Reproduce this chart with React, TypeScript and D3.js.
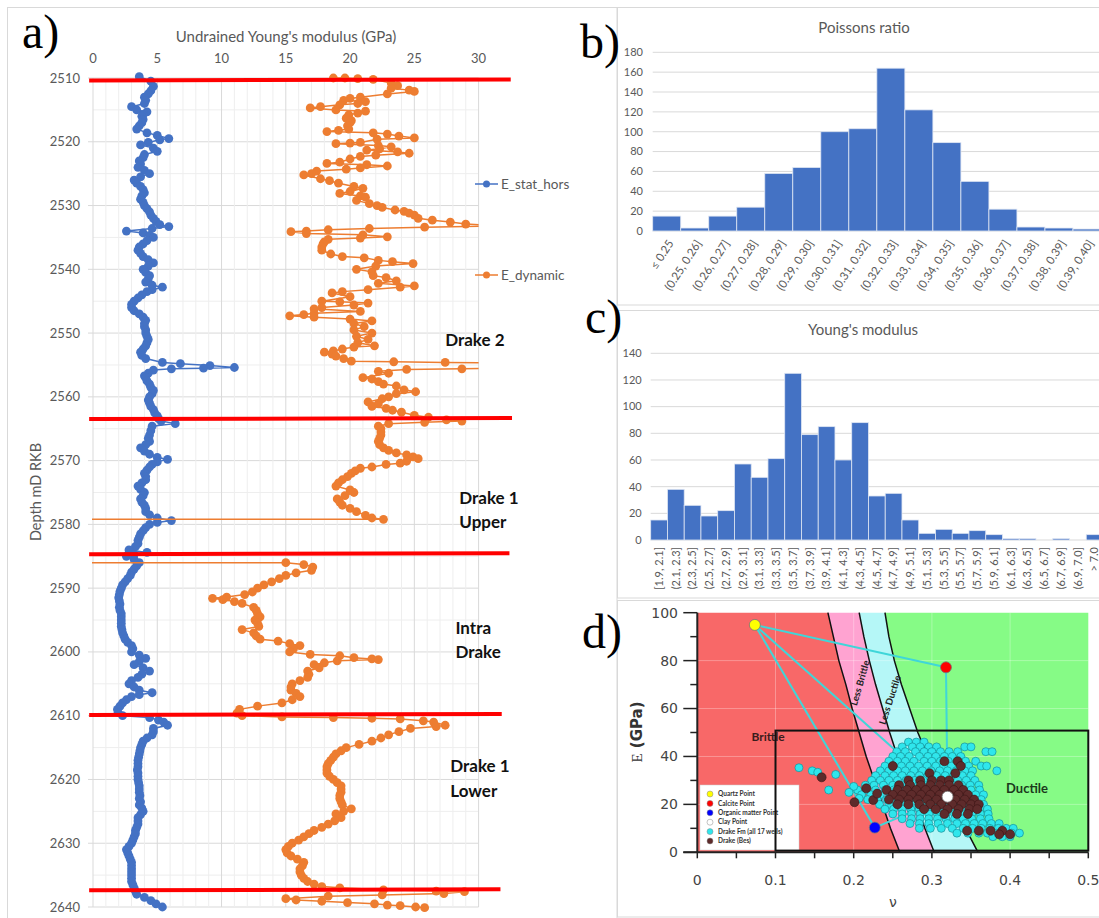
import React from "react";
import * as d3 from "d3";

// ---------- a) well log: [depth mD RKB, GPa] ----------
const eStatHors: [number, number][] = [
  [2509.8, 3.6], [2510.5, 4.5], [2511.3, 4.7], [2512, 4.5], [2512.5, 4.3], [2513, 4.0], [2513.5, 4.1], [2514, 4.0],
  [2514.5, 3.0], [2515, 3.4], [2515.3, 4.2], [2515.7, 3.9], [2516, 3.8], [2516.5, 3.9], [2517, 3.8], [2517.5, 3.6],
  [2518, 3.4], [2518.6, 4.2], [2519, 5.0], [2519.5, 5.9], [2519.7, 5.2], [2520.1, 4.3], [2520.5, 3.7], [2521, 4.7],
  [2521.5, 5.0], [2522, 4.0], [2522.5, 3.9], [2523, 3.6], [2523.5, 3.7], [2524, 3.5], [2524.5, 4.0], [2525, 4.4],
  [2525.5, 3.7], [2526, 3.2], [2526.5, 3.4], [2527, 3.7], [2527.5, 3.9], [2528, 4.0], [2528.5, 3.8], [2529, 3.7],
  [2529.5, 3.9], [2530, 4.0], [2530.5, 4.2], [2531, 4.4], [2531.5, 4.5], [2532, 4.7], [2532.5, 4.9], [2533, 5.2],
  [2533.3, 5.9], [2533.6, 4.6], [2534, 2.6], [2534.3, 3.9], [2534.7, 4.4], [2535, 4.7], [2535.5, 4.2], [2536, 3.9],
  [2536.5, 3.6], [2537, 3.5], [2537.5, 3.7], [2538, 3.9], [2538.5, 4.3], [2539, 4.7], [2539.5, 4.3], [2540, 3.9],
  [2540.5, 4.1], [2541, 4.4], [2541.5, 4.3], [2542, 4.1], [2542.5, 4.6], [2542.8, 5.4], [2543.2, 4.6], [2543.5, 4.2],
  [2544, 3.8], [2544.5, 3.5], [2545, 3.2], [2545.5, 3.0], [2546, 3.0], [2546.5, 3.2], [2547, 3.6], [2547.5, 3.9],
  [2548, 4.1], [2548.5, 4.0], [2549, 4.0], [2549.5, 4.1], [2550, 4.1], [2550.5, 4.2], [2551, 4.3], [2551.5, 4.2],
  [2552, 4.1], [2552.5, 3.9], [2553, 3.7], [2553.5, 3.8], [2554, 4.1], [2554.6, 5.4], [2554.8, 6.8], [2555.1, 9.1],
  [2555.4, 11.0], [2555.5, 8.6], [2555.6, 6.1], [2555.8, 4.7], [2556.3, 4.3], [2556.7, 4.0], [2557, 4.1],
  [2557.5, 4.2], [2558, 4.4], [2558.5, 4.5], [2559, 4.7], [2559.5, 4.6], [2560, 4.4], [2560.5, 4.3], [2561, 4.4],
  [2561.5, 4.5], [2562, 4.7], [2562.5, 4.8], [2563, 5.0], [2563.4, 5.1], [2563.8, 5.3], [2564.2, 6.4], [2564.6, 4.6],
  [2565.3, 4.5], [2566, 4.4], [2566.5, 4.3], [2567, 4.4], [2567.5, 4.1], [2568, 3.7], [2568.5, 4.0], [2569, 4.4],
  [2569.5, 5.0], [2569.8, 5.8], [2570.2, 5.0], [2570.6, 4.6], [2571, 4.4], [2571.5, 4.2], [2572, 4.0], [2572.5, 4.1],
  [2573, 4.1], [2573.5, 3.8], [2574, 3.5], [2574.5, 3.7], [2575, 4.0], [2575.5, 3.9], [2576, 3.7], [2576.5, 3.8],
  [2577, 4.0], [2577.5, 4.1], [2578, 4.1], [2578.5, 4.4], [2579, 5.0], [2579.4, 6.1], [2579.7, 5.0], [2580, 4.4],
  [2580.5, 4.1], [2581, 3.9], [2581.5, 3.7], [2582, 3.6], [2582.5, 3.5], [2583, 3.5], [2583.5, 3.3], [2584, 2.8],
  [2584.4, 4.2], [2584.7, 3.2], [2585, 2.6], [2585.5, 3.2], [2586, 3.6], [2586.5, 3.4], [2587, 3.2], [2587.5, 3.0],
  [2588, 2.9], [2588.5, 2.7], [2589, 2.5], [2589.5, 2.3], [2590, 2.2], [2590.5, 2.1], [2591, 2.05], [2591.5, 2.0],
  [2592, 2.05], [2592.5, 2.1], [2593, 2.05], [2593.5, 2.1], [2594, 2.2], [2594.5, 2.2], [2595, 2.2], [2595.5, 2.2],
  [2596, 2.2], [2596.5, 2.25], [2597, 2.3], [2597.5, 2.4], [2598, 2.5], [2598.5, 2.7], [2599, 3.0], [2599.5, 3.1],
  [2600, 3.0], [2600.5, 3.6], [2601, 4.1], [2601.5, 3.6], [2602, 3.2], [2602.5, 3.9], [2603, 4.4], [2603.5, 3.8],
  [2604, 3.5], [2604.5, 3.0], [2605, 2.8], [2605.5, 3.2], [2606, 3.6], [2606.4, 4.6], [2606.7, 3.6], [2607, 3.0],
  [2607.5, 2.6], [2608, 2.3], [2608.5, 2.1], [2609, 1.9], [2609.5, 1.95], [2610, 2.3], [2610.3, 4.4], [2610.7, 5.1],
  [2611, 5.5], [2611.5, 5.8], [2612, 4.7], [2612.5, 4.7], [2613, 4.6], [2613.5, 4.2], [2614, 3.9], [2614.5, 3.8],
  [2615, 3.7], [2615.5, 3.65], [2616, 3.6], [2616.5, 3.55], [2617, 3.5], [2617.5, 3.5], [2618, 3.5], [2618.5, 3.45],
  [2619, 3.5], [2619.5, 3.5], [2620, 3.5], [2620.5, 3.55], [2621, 3.6], [2621.5, 3.6], [2622, 3.6], [2622.5, 3.65],
  [2623, 3.6], [2623.5, 3.7], [2624, 3.6], [2624.5, 3.8], [2625, 3.9], [2625.5, 3.7], [2626, 3.5], [2626.5, 3.5],
  [2627, 3.5], [2627.5, 3.4], [2628, 3.3], [2628.5, 3.3], [2629, 3.2], [2629.5, 3.1], [2630, 3.0], [2630.5, 2.8],
  [2631, 2.6], [2631.5, 2.7], [2632, 2.8], [2632.5, 2.9], [2633, 3.0], [2633.5, 3.0], [2634, 3.0], [2634.5, 3.0],
  [2635, 3.0], [2635.5, 3.0], [2636, 3.0], [2636.5, 3.1], [2637, 3.2], [2637.5, 3.3], [2638, 3.4], [2638.5, 4.0],
  [2639, 4.5], [2639.5, 4.9], [2640, 5.4],
];

// -999.25 is the log null value (the line runs off the left of the axis)
const eDynamic: [number, number][] = [
  [2510, 18.7], [2510, 19.6], [2510.1, 20.6], [2510.2, 21.8], [2510.8, 23.2], [2511.2, 23.7], [2511.6, 23.2],
  [2511.9, 24.6], [2512.1, 25.0], [2512.5, 22.9], [2513, 20.8], [2513.2, 20.0], [2513.5, 19.5], [2513.7, 21.2],
  [2514, 20.6], [2514.2, 19.2], [2514.5, 17.7], [2514.7, 16.9], [2515, 18.9], [2515.2, 21.2], [2515.5, 20.6],
  [2515.8, 19.9], [2516.3, 19.7], [2516.7, 20.1], [2517, 20.0], [2517.5, 19.8], [2518, 19.9], [2518.2, 19.1],
  [2518.4, 18.2], [2518.6, 21.8], [2518.8, 22.9], [2519.1, 23.8], [2519.4, 25.0], [2519.6, 22.1], [2520.1, 20.8],
  [2520.2, 20.0], [2520.3, 18.9], [2520.6, 22.2], [2520.8, 23.2], [2521.1, 22.3], [2521.3, 21.3], [2521.6, 23.7],
  [2521.8, 24.6], [2522.1, 22.0], [2522.3, 20.8], [2522.7, 20.0], [2523.2, 19.2], [2523.4, 18.2], [2523.6, 21.3],
  [2523.8, 22.9], [2524.1, 20.8], [2524.3, 19.7], [2524.6, 17.4], [2525, 17.0], [2525.2, 16.4], [2525.8, 17.7],
  [2526.1, 18.4], [2526.5, 19.1], [2527, 20.3], [2527.3, 21.0], [2527.8, 20.0], [2528.1, 19.2], [2528.5, 20.8],
  [2528.7, 21.2], [2529.2, 20.5], [2529.7, 21.5], [2530, 22.1], [2530.3, 22.5], [2530.7, 23.5], [2530.9, 24.2],
  [2531.2, 24.6], [2531.5, 25.0], [2532, 25.3], [2532.3, 26.4], [2532.6, 27.8], [2532.9, 29.0], [2533.2, 31.5],
  [2533.4, 25.8], [2533.6, 21.5], [2533.8, 18.3], [2534, 16.6], [2534.1, 15.4], [2534.4, 16.6], [2534.6, 21.0],
  [2534.9, 22.9], [2535.1, 20.8], [2535.3, 18.3], [2535.7, 18.0], [2536, 17.9], [2536.5, 17.8], [2537, 17.8],
  [2537.6, 18.5], [2538, 19.4], [2538.2, 21.1], [2538.6, 22.2], [2538.8, 23.3], [2539.1, 24.9], [2539.5, 22.0],
  [2540, 20.5], [2540.4, 21.7], [2541, 21.8], [2541.3, 22.8], [2541.8, 23.6], [2542.2, 22.2], [2542.6, 25.0],
  [2542.8, 23.9], [2543.2, 21.4], [2543.5, 19.4], [2543.7, 18.6], [2544.3, 20.0], [2545, 17.8], [2545.1, 19.2],
  [2545.3, 21.4], [2545.6, 20.3], [2546, 17.8], [2546.2, 17.2], [2546.6, 20.8], [2546.9, 17.2], [2547.1, 16.4],
  [2547.3, 15.3], [2547.5, 17.2], [2547.8, 20.0], [2548.1, 21.7], [2548.5, 20.3], [2549, 21.1], [2549.5, 20.3],
  [2550, 21.7], [2550.5, 20.5], [2551, 21.4], [2551.5, 20.6], [2552, 21.9], [2552.2, 20.3], [2552.5, 19.4],
  [2552.8, 18.7], [2553, 18.0], [2553.3, 18.6], [2553.6, 18.9], [2554, 19.5], [2554.4, 20.1], [2554.5, 23.4],
  [2554.6, 27.4], [2554.7, 32.0], [2555.5, 32.0], [2555.6, 28.7], [2555.7, 24.4], [2556, 22.2], [2556.3, 23.0],
  [2557, 21.0], [2557.2, 21.7], [2557.6, 22.2], [2558, 22.6], [2558.3, 23.6], [2558.9, 24.2], [2559.2, 25.1],
  [2559.5, 23.6], [2560, 23.0], [2560.3, 22.5], [2560.8, 21.4], [2561.1, 22.2], [2561.5, 21.7], [2561.8, 22.8],
  [2562.1, 23.3], [2562.4, 24.0], [2562.9, 25.0], [2563.2, 26.1], [2563.6, 27.5], [2563.8, 28.7], [2564, 25.8],
  [2564.2, 23.0], [2564.6, 22.2], [2565, 22.4], [2565.5, 22.4], [2566, 22.4], [2566.5, 22.3], [2567, 22.2],
  [2567.5, 22.3], [2568, 22.6], [2568.4, 23.0], [2568.8, 23.6], [2569.1, 24.4], [2569.4, 24.9], [2569.7, 25.3],
  [2570.1, 24.4], [2570.4, 23.9], [2570.6, 22.8], [2571, 21.7], [2571.2, 20.8], [2571.6, 20.4], [2572, 20.1],
  [2572.5, 19.8], [2573, 19.4], [2573.5, 19.1], [2574, 18.9], [2574.6, 20.0], [2575, 20.3], [2575.5, 19.6],
  [2576, 19.0], [2576.5, 19.2], [2577, 19.4], [2577.5, 20.0], [2578, 20.5], [2578.6, 21.2], [2579, 21.7],
  [2579.2, 22.6], [2579.3, -999.25], [2585.9, -999.25], [2586, 15.0], [2586.3, 16.4], [2586.7, 17.1],
  [2587.2, 17.0], [2587.6, 15.8], [2588, 15.0], [2588.5, 14.5], [2589, 13.9], [2589.5, 13.3], [2590, 12.8],
  [2590.6, 12.4], [2591, 11.8], [2591.4, 10.4], [2591.6, 9.3], [2591.8, 10.1], [2592.1, 11.0], [2592.4, 11.6],
  [2593, 12.5], [2593.5, 12.7], [2594, 12.8], [2594.5, 13.0], [2595, 12.6], [2595.5, 12.8], [2596, 12.9],
  [2596.5, 11.6], [2597, 12.5], [2597.5, 12.7], [2598, 13.0], [2598.3, 14.4], [2598.7, 15.3], [2599, 16.1],
  [2599.5, 15.6], [2600, 15.3], [2600.4, 16.9], [2600.6, 19.2], [2600.9, 20.3], [2601.1, 21.7], [2601.2, 22.2],
  [2601.4, 19.0], [2601.7, 18.0], [2602, 17.2], [2602.5, 17.6], [2603, 16.7], [2603.5, 16.8], [2604, 16.7],
  [2604.5, 16.1], [2605, 15.5], [2605.5, 15.4], [2606, 15.4], [2606.5, 15.8], [2607, 16.1], [2607.5, 15.5],
  [2608, 14.7], [2608.5, 12.8], [2609, 11.4], [2609.6, 11.2], [2610, 11.6], [2610.2, 14.7], [2610.3, 18.7],
  [2610.4, 21.7], [2610.5, 23.9], [2610.8, 25.7], [2611, 26.5], [2611.5, 27.4], [2611.7, 26.7], [2612, 24.7],
  [2612.5, 23.8], [2613, 23.0], [2613.5, 22.4], [2614, 21.7], [2614.5, 20.7], [2615, 19.7], [2615.5, 19.3],
  [2616, 18.9], [2616.5, 18.7], [2617, 18.5], [2617.5, 18.3], [2618, 18.2], [2618.5, 18.2], [2619, 18.2],
  [2619.5, 18.4], [2620, 18.7], [2620.5, 19.0], [2621, 19.3], [2621.5, 19.3], [2622, 19.3], [2622.5, 19.2],
  [2623, 19.2], [2623.5, 19.3], [2624, 19.4], [2624.6, 20.1], [2625, 19.5], [2625.4, 18.9], [2626, 19.3],
  [2626.5, 18.8], [2627, 18.3], [2627.5, 17.8], [2628, 17.2], [2628.5, 16.8], [2629, 16.4], [2629.5, 16.0],
  [2630, 15.5], [2630.5, 15.2], [2631, 15.0], [2631.5, 15.1], [2632, 15.4], [2632.5, 15.9], [2633, 16.4],
  [2633.5, 16.3], [2634, 16.1], [2634.5, 16.1], [2635, 16.2], [2635.5, 16.4], [2636, 16.7], [2636.4, 17.2],
  [2636.8, 17.8], [2637, 19.2], [2637.3, 22.6], [2637.5, 26.7], [2637.6, 28.9], [2637.9, 27.3], [2638.1, 22.5],
  [2638.3, 18.3], [2638.7, 15.0], [2638.9, 15.8], [2639.1, 17.8], [2639.3, 19.8], [2639.5, 21.9], [2639.7, 22.9],
  [2639.8, 23.9], [2640, 25.1], [2640.1, 25.8],
];

const formationTops = [2510.3, 2563.4, 2584.6, 2609.8, 2637.3];
const topsEndGPa = [32.5, 32.6, 32.4, 31.8, 31.7];
const zoneNames = [["Drake 2"], ["Drake 1", "Upper"], ["Intra", "Drake"], ["Drake 1", "Lower"]];
const zoneDepths = [2551.1, 2575.8, 2596.2, 2617.9];
const zoneGPa = [27.4, 28.5, 28.2, 27.8];
const modulusTicks = [0, 5, 10, 15, 20, 25, 30];
const depthTicks = [2510, 2520, 2530, 2540, 2550, 2560, 2570, 2580, 2590, 2600, 2610, 2620, 2630, 2640];

// ---------- b) Poissons ratio histogram ----------
const poissonBins = ["≤ 0.25", "(0.25, 0.26]", "(0.26, 0.27]", "(0.27, 0.28]", "(0.28, 0.29]", "(0.29, 0.30]",
  "(0.30, 0.31]", "(0.31, 0.32]", "(0.32, 0.33]", "(0.33, 0.34]", "(0.34, 0.35]", "(0.35, 0.36]",
  "(0.36, 0.37]", "(0.37, 0.38]", "(0.38, 0.39]", "(0.39, 0.40]"];
const poissonCounts = [15, 3, 15, 24, 58, 64, 100, 103, 164, 122, 89, 50, 22, 4, 3, 2];
const poissonTicks = [0, 20, 40, 60, 80, 100, 120, 140, 160, 180];

// ---------- c) Young's modulus histogram ----------
const youngBins = ["[1.9, 2.1]", "(2.1, 2.3]", "(2.3, 2.5]", "(2.5, 2.7]", "(2.7, 2.9]", "(2.9, 3.1]",
  "(3.1, 3.3]", "(3.3, 3.5]", "(3.5, 3.7]", "(3.7, 3.9]", "(3.9, 4.1]", "(4.1, 4.3]", "(4.3, 4.5]",
  "(4.5, 4.7]", "(4.7, 4.9]", "(4.9, 5.1]", "(5.1, 5.3]", "(5.3, 5.5]", "(5.5, 5.7]", "(5.7, 5.9]",
  "(5.9, 6.1]", "(6.1, 6.3]", "(6.3, 6.5]", "(6.5, 6.7]", "(6.7, 6.9]", "(6.9, 7.0]", "> 7.0"];
const youngCounts = [15, 38, 26, 18, 22, 57, 47, 61, 125, 79, 85, 60, 88, 33, 35, 15, 5, 8, 5, 7, 4, 1, 1, 0, 1, 0, 4];
const youngTicks = [0, 20, 40, 60, 80, 100, 120, 140];

// ---------- d) E vs nu template ----------
const brittleCurve: [number, number][] = [[0.167, 100], [0.174, 90], [0.181, 80], [0.19, 70], [0.198, 60], [0.207, 50],
  [0.216, 40], [0.227, 29.5], [0.237, 19.7], [0.247, 10], [0.259, 0]];
const lessBrittleCurve: [number, number][] = [[0.207, 100], [0.213, 90], [0.22, 80], [0.228, 70], [0.237, 60],
  [0.246, 50], [0.256, 40], [0.267, 30], [0.28, 20], [0.291, 10], [0.303, 0]];
const lessDuctileCurve: [number, number][] = [[0.24, 100], [0.245, 90], [0.252, 80], [0.261, 70], [0.2715, 60],
  [0.282, 50], [0.295, 40], [0.31, 30], [0.327, 20], [0.343, 10], [0.359, 0]];

const endMemberNames = ["Quartz Point", "Calcite Point", "Organic matter Point", "Clay Point"];
const endMemberNu = [0.0736, 0.318, 0.227, 0.32];
const endMemberE = [94.9, 77.2, 10.3, 23.2];
const endMemberColors = ["#ffff00", "#ff0000", "#0000ff", "#ffffff"];
const tieLines = [[0, 1], [0, 3], [0, 2], [1, 3], [2, 3]];

// rows of [E, nu values]
const drakeFmRows: [number, number[]][] = [
  [46, [0.27, 0.28, 0.29]],
  [44, [0.262, 0.275, 0.285, 0.296, 0.306, 0.342, 0.35]],
  [42, [0.255, 0.266, 0.279, 0.29, 0.3, 0.311, 0.322, 0.333, 0.369, 0.377]],
  [40, [0.25, 0.26, 0.271, 0.284, 0.295, 0.305, 0.316, 0.326, 0.337]],
  [38, [0.245, 0.256, 0.266, 0.277, 0.29, 0.3, 0.311, 0.321, 0.332, 0.343, 0.356]],
  [36, [0.24, 0.25, 0.261, 0.272, 0.283, 0.294, 0.305, 0.315, 0.325, 0.336, 0.347, 0.363, 0.37]],
  [34, [0.234, 0.245, 0.256, 0.266, 0.277, 0.288, 0.299, 0.31, 0.32, 0.331, 0.342, 0.352, 0.383]],
  [32, [0.228, 0.24, 0.251, 0.262, 0.273, 0.284, 0.295, 0.306, 0.317, 0.328, 0.339, 0.35]],
  [30, [0.223, 0.234, 0.245, 0.256, 0.267, 0.278, 0.289, 0.3, 0.311, 0.322, 0.333, 0.344, 0.355]],
  [28, [0.215, 0.226, 0.238, 0.25, 0.261, 0.272, 0.283, 0.294, 0.305, 0.316, 0.327, 0.338, 0.349, 0.36]],
  [26, [0.205, 0.216, 0.228, 0.24, 0.251, 0.262, 0.273, 0.284, 0.295, 0.306, 0.317, 0.328, 0.339, 0.35, 0.361]],
  [24, [0.21, 0.222, 0.234, 0.246, 0.257, 0.268, 0.279, 0.29, 0.301, 0.312, 0.323, 0.334, 0.345, 0.356, 0.366]],
  [22, [0.218, 0.23, 0.242, 0.253, 0.264, 0.275, 0.286, 0.297, 0.308, 0.319, 0.33, 0.341, 0.352, 0.363]],
  [20, [0.233, 0.245, 0.256, 0.267, 0.278, 0.289, 0.3, 0.311, 0.322, 0.333, 0.344, 0.355, 0.366]],
  [18, [0.24, 0.251, 0.262, 0.273, 0.284, 0.295, 0.306, 0.317, 0.328, 0.339, 0.35, 0.361, 0.371]],
  [16, [0.25, 0.262, 0.274, 0.285, 0.296, 0.307, 0.318, 0.329, 0.34, 0.351, 0.362, 0.372]],
  [14, [0.262, 0.274, 0.285, 0.296, 0.307, 0.318, 0.329, 0.34, 0.351, 0.362, 0.373]],
  [12, [0.272, 0.284, 0.296, 0.308, 0.32, 0.332, 0.343, 0.354, 0.365, 0.376, 0.386]],
  [10, [0.284, 0.298, 0.312, 0.326, 0.34, 0.352, 0.363, 0.374, 0.385, 0.395, 0.404]],
  [8, [0.332, 0.346, 0.36, 0.371, 0.382, 0.392, 0.402, 0.412]],
  [6.5, [0.378, 0.39, 0.4]],
];
const drakeFmScattered: [number, number][] = [[0.13, 35.3], [0.147, 34], [0.154, 33.4], [0.177, 32.5],
  [0.168, 26], [0.2, 27.5], [0.207, 22.5], [0.194, 25]];

const drakeBesRows: [number, number[]][] = [
  [38, [0.316, 0.333]],
  [36, [0.25, 0.337]],
  [33, [0.297, 0.33]],
  [30, [0.27, 0.285, 0.3, 0.312, 0.322]],
  [28, [0.258, 0.272, 0.286, 0.298, 0.31, 0.322, 0.334]],
  [26, [0.242, 0.256, 0.268, 0.28, 0.292, 0.304, 0.316, 0.328, 0.34]],
  [24, [0.25, 0.262, 0.274, 0.286, 0.298, 0.31, 0.322, 0.334, 0.346]],
  [22, [0.245, 0.258, 0.27, 0.282, 0.294, 0.306, 0.318, 0.33, 0.342, 0.354]],
  [20, [0.256, 0.27, 0.284, 0.298, 0.312, 0.326, 0.338, 0.35, 0.36]],
  [18, [0.29, 0.305, 0.32, 0.334, 0.348, 0.358]],
  [16, [0.316, 0.332, 0.346]],
  [9, [0.345, 0.36, 0.375, 0.39]],
  [7.5, [0.386, 0.4]],
];
const drakeBesScattered: [number, number][] = [[0.159, 31.3], [0.201, 20.9], [0.225, 21.8], [0.216, 26.7], [0.23, 24.5]];

const legendNames = [...endMemberNames, "Drake Fm (all 17 wells)", "Drake (Bes)"];

const BLUE = "#4472c4";
const ORANGE = "#ed7d31";
const GREY = "#595959";
const GRID = "#d9d9d9";
const CYAN = "#2fe6ec";
const BROWN = "#5e2b2b";
const MARKER_R = 4.4;

const WellLog = () => {
  const x = d3.scaleLinear().domain([0, 30]).range([93, 478.6]);
  const y = d3.scaleLinear().domain([2510, 2640]).range([78, 907]);
  const line = d3.line<[number, number]>().x((d) => x(d[1])).y((d) => y(d[0]));
  const minorX = d3.range(0, 31, 1);
  const minorY = d3.range(2510, 2641, 5);

  return (
    <g>
      <rect x={7.5} y={7.5} width={609.5} height={920} fill="#fff" stroke={GRID} />
      <defs>
        <clipPath id="clipA">
          <rect x={92} y={72} width={386.6} height={841} />
        </clipPath>
      </defs>
      {minorY.map((d) => (
        <line key={"gy" + d} x1={x(0)} x2={x(30)} y1={y(d)} y2={y(d)} stroke={d % 10 === 0 ? GRID : "#eeeeee"} />
      ))}
      {minorX.map((v) => (
        <line key={"gx" + v} x1={x(v)} x2={x(v)} y1={y(2510)} y2={y(2640)} stroke={v % 5 === 0 ? GRID : "#eeeeee"} />
      ))}
      {depthTicks.map((d) => (
        <g key={"yt" + d}>
          <line x1={x(0) - 5} x2={x(0)} y1={y(d)} y2={y(d)} stroke={GRID} />
          <text x={80} y={y(d)} dy="0.35em" textAnchor="end" fontSize={13} fill={GREY}>{d}</text>
        </g>
      ))}
      {modulusTicks.map((v) => (
        <text key={"xt" + v} x={x(v)} y={58} dy="0.35em" textAnchor="middle" fontSize={13} fill={GREY}>{v}</text>
      ))}
      <text x={286} y={37} dy="0.35em" textAnchor="middle" fontSize={15} fill={GREY}>Undrained Young's modulus (GPa)</text>
      <text transform={`translate(36,492) rotate(-90)`} dy="0.35em" textAnchor="middle" fontSize={14.5} fill={GREY}>Depth mD RKB</text>

      <g clipPath="url(#clipA)">
        <path d={line(eStatHors) || ""} fill="none" stroke={BLUE} strokeWidth={1.5} />
        {eStatHors.map((d, i) => (
          <circle key={"b" + i} cx={x(d[1])} cy={y(d[0])} r={MARKER_R} fill={BLUE} />
        ))}
        <path d={line(eDynamic) || ""} fill="none" stroke={ORANGE} strokeWidth={1.5} />
        {eDynamic.filter((d) => d[1] > 0).map((d, i) => (
          <circle key={"o" + i} cx={x(d[1])} cy={y(d[0])} r={MARKER_R} fill={ORANGE} />
        ))}
      </g>

      {formationTops.map((d, i) => (
        <line key={"top" + i} x1={x(-0.3)} x2={x(topsEndGPa[i])} y1={y(d) + 0.5} y2={y(d) - 0.5} stroke="#ff0000" strokeWidth={4} />
      ))}

      {zoneNames.map((lines, i) =>
        lines.map((t, j) => (
          <text key={"z" + i + j} x={x(zoneGPa[i])} y={y(zoneDepths[i]) + j * 24.5} dy="0.35em" fontSize={17} fontWeight="bold" fill="#111">{t}</text>
        ))
      )}

      {/* legend */}
      {[["E_stat_hors", BLUE, 184], ["E_dynamic", ORANGE, 275]].map(([name, c, ly]) => (
        <g key={name as string}>
          <line x1={475} x2={498} y1={ly as number} y2={ly as number} stroke={c as string} strokeWidth={1.5} />
          <circle cx={486.5} cy={ly as number} r={3.5} fill={c as string} />
          <text x={501} y={ly as number} dy="0.35em" fontSize={13.5} fill={GREY}>{name}</text>
        </g>
      ))}
    </g>
  );
};

const PoissonHistogram = () => {
  const x = d3.scaleBand().domain(poissonBins).range([652.7, 1101]);
  const y = d3.scaleLinear().domain([0, 180]).range([231, 52.3]);
  return (
    <g>
      <rect x={617.5} y={7.5} width={490} height={297.5} fill="#fff" stroke={GRID} />
      <text x={864} y={28} dy="0.35em" textAnchor="middle" fontSize={15} fill={GREY}>Poissons ratio</text>
      {poissonTicks.map((t) => (
        <g key={t}>
          <line x1={652.7} x2={1099} y1={y(t)} y2={y(t)} stroke={GRID} />
          <text x={643} y={y(t)} dy="0.35em" textAnchor="end" fontSize={11} fill={GREY}>{t}</text>
        </g>
      ))}
      {poissonBins.map((b, i) => (
        <rect key={b} x={x(b)} y={y(poissonCounts[i])} width={x.bandwidth()} height={y(0) - y(poissonCounts[i])}
          fill={BLUE} stroke="#dfe6f3" strokeWidth={0.8} />
      ))}
      {poissonBins.map((b) => (
        <text key={"l" + b} transform={`translate(${(x(b) as number) + x.bandwidth() / 2 + 4},${241}) rotate(-57)`}
          dy="0.35em" textAnchor="end" fontSize={11.5} fill={GREY}>{b}</text>
      ))}
    </g>
  );
};

const YoungHistogram = () => {
  const x = d3.scaleBand().domain(youngBins).range([650.7, 1103]);
  const y = d3.scaleLinear().domain([0, 140]).range([540, 353.3]);
  return (
    <g>
      <rect x={617.5} y={310.5} width={490} height={287.5} fill="#fff" stroke={GRID} />
      <text x={863} y={330} dy="0.35em" textAnchor="middle" fontSize={15} fill={GREY}>Young's modulus</text>
      {youngTicks.map((t) => (
        <g key={t}>
          <line x1={650.7} x2={1099} y1={y(t)} y2={y(t)} stroke={GRID} />
          <text x={641.7} y={y(t)} dy="0.35em" textAnchor="end" fontSize={11} fill={GREY}>{t}</text>
        </g>
      ))}
      {youngBins.map((b, i) => (
        <rect key={b} x={x(b)} y={y(youngCounts[i])} width={x.bandwidth()} height={y(0) - y(youngCounts[i])}
          fill={BLUE} stroke="#dfe6f3" strokeWidth={youngCounts[i] > 0 ? 0.8 : 0} />
      ))}
      {youngBins.map((b) => (
        <text key={"l" + b} transform={`translate(${(x(b) as number) + x.bandwidth() / 2},${547}) rotate(-90)`}
          dy="0.35em" textAnchor="end" fontSize={11} fill={GREY}>{b}</text>
      ))}
    </g>
  );
};

const Template = () => {
  const x = d3.scaleLinear().domain([0, 0.5]).range([697.3, 1088.3]);
  const y = d3.scaleLinear().domain([0, 100]).range([852.3, 612.7]);
  const poly = d3.line<[number, number]>().x((d) => x(d[0])).y((d) => y(d[1]));
  const rev = (a: [number, number][]) => a.slice().reverse();
  const red: [number, number][] = [[0, 100], ...brittleCurve, [0, 0]];
  const pink = [...brittleCurve, ...rev(lessBrittleCurve)];
  const cyan = [...lessBrittleCurve, ...rev(lessDuctileCurve)];
  const green: [number, number][] = [...lessDuctileCurve, [0.5, 0], [0.5, 100]];
  const fm = [...drakeFmRows.flatMap(([e, nus]) => nus.map((n) => [n, e] as [number, number])), ...drakeFmScattered];
  const bes = [...drakeBesRows.flatMap(([e, nus]) => nus.map((n) => [n, e] as [number, number])), ...drakeBesScattered];
  const legendColors = [...endMemberColors, CYAN, BROWN];

  return (
    <g>
      <rect x={617.5} y={600.5} width={490} height={316.5} fill="#fff" stroke={GRID} />
      <path d={poly(red) + "Z"} fill="#f86868" />
      <path d={poly(pink) + "Z"} fill="#ffa3d1" />
      <path d={poly(cyan) + "Z"} fill="#b5f7f7" />
      <path d={poly(green) + "Z"} fill="#86fb86" />
      {[20, 40, 60, 80].map((e) => (
        <line key={"ge" + e} x1={x(0)} x2={x(0.5)} y1={y(e)} y2={y(e)} stroke="#fff" strokeOpacity={0.3} />
      ))}
      {[0.1, 0.2, 0.3, 0.4].map((n) => (
        <line key={"gn" + n} x1={x(n)} x2={x(n)} y1={y(0)} y2={y(100)} stroke="#fff" strokeOpacity={0.3} />
      ))}
      {[brittleCurve, lessBrittleCurve, lessDuctileCurve].map((c, i) => (
        <path key={"c" + i} d={poly(c) || ""} fill="none" stroke="#111" strokeWidth={1.5} />
      ))}
      <text transform={`translate(860,683) rotate(-74)`} dy="0.35em" textAnchor="middle" fontSize={9.5} fontWeight="bold" fill="#222">Less Brittle</text>
      <text transform={`translate(890,700) rotate(-72)`} dy="0.35em" textAnchor="middle" fontSize={9.5} fontWeight="bold" fill="#222">Less Ductile</text>
      <text x={768} y={737} dy="0.35em" textAnchor="middle" fontSize={12} fontWeight="bold" fill="#3a1c1c">Brittle</text>
      <text x={1027} y={788} dy="0.35em" textAnchor="middle" fontSize={13} fontWeight="bold" fill="#1c3a1c">Ductile</text>

      {tieLines.map(([a, b], i) => (
        <line key={"t" + i} x1={x(endMemberNu[a])} y1={y(endMemberE[a])} x2={x(endMemberNu[b])} y2={y(endMemberE[b])}
          stroke="#3fd6d9" strokeWidth={2} />
      ))}
      {fm.map((d, i) => (
        <circle key={"f" + i} cx={x(d[0])} cy={y(d[1])} r={4} fill={CYAN} stroke="#15909a" strokeWidth={0.7} />
      ))}
      {bes.map((d, i) => (
        <circle key={"s" + i} cx={x(d[0])} cy={y(d[1])} r={4.5} fill={BROWN} stroke="#3a1414" strokeWidth={0.6} />
      ))}
      {endMemberNames.map((n, i) => (
        <circle key={n} cx={x(endMemberNu[i])} cy={y(endMemberE[i])} r={5.5} fill={endMemberColors[i]} stroke="#777" strokeWidth={0.8} />
      ))}

      {/* legend */}
      <rect x={700} y={785} width={99} height={65} fill="#fff" stroke="#ccc" strokeWidth={0.5} />
      {legendNames.map((n, i) => (
        <g key={"lg" + n}>
          <circle cx={710} cy={794 + i * 9.4} r={3} fill={legendColors[i]} stroke="#888" strokeWidth={0.5} />
          <text x={718} y={794 + i * 9.4} dy="0.35em" fontSize={6.5} fontWeight="bold" fill="#333">{n}</text>
        </g>
      ))}

      <rect x={x(0.1)} y={y(50.8)} width={x(0.5) - x(0.1)} height={y(0.7) - y(50.8)} fill="none" stroke="#111" strokeWidth={2} />

      {/* axes */}
      <line x1={x(0)} x2={x(0)} y1={y(100)} y2={y(0)} stroke="#222" strokeWidth={2} />
      <line x1={683.3} x2={x(0.5)} y1={y(0)} y2={y(0)} stroke="#222" strokeWidth={2} />
      {d3.range(0, 101, 10).map((e) => (
        <line key={"yt" + e} x1={x(0) - (e % 20 === 0 ? 14 : 7)} x2={x(0)} y1={y(e)} y2={y(e)} stroke="#222" strokeWidth={1.5} />
      ))}
      {d3.range(0, 101, 20).map((e) => (
        <text key={"yl" + e} x={678} y={y(e)} dy="0.35em" textAnchor="end" fontSize={14} fill="#444" fontFamily="'DejaVu Sans', sans-serif">{e}</text>
      ))}
      {d3.range(0, 11, 1).map((k) => (
        <line key={"xt" + k} x1={x(k * 0.05)} x2={x(k * 0.05)} y1={y(0)} y2={y(0) + 6} stroke="#222" strokeWidth={1.5} />
      ))}
      {[0, 0.1, 0.2, 0.3, 0.4, 0.5].map((n) => (
        <text key={"xl" + n} x={x(n)} y={880} dy="0.35em" textAnchor="middle" fontSize={14} fill="#444" fontFamily="'DejaVu Sans', sans-serif">{n}</text>
      ))}
      <text x={893} y={902} dy="0.35em" textAnchor="middle" fontSize={14} fill="#444" fontFamily="'DejaVu Sans', sans-serif">ν</text>
      <text transform={`translate(637,732) rotate(-90)`} dy="0.35em" textAnchor="middle" fontSize={15} fill="#333" fontWeight="bold" fontFamily="'DejaVu Sans', sans-serif">
        <tspan fontFamily="'Liberation Serif', serif" fontWeight="normal">E</tspan> (GPa)
      </text>
    </g>
  );
};

export default function App() {
  return (
    <div style={{ position: "absolute", left: 0, top: 0, width: 1099, height: 918, background: "#fff" }}>
      <svg width={1099} height={918} style={{ display: "block" }} fontFamily="Lato, 'Open Sans', sans-serif">
        <WellLog />
        <PoissonHistogram />
        <YoungHistogram />
        <Template />
        {[["a)", 22, 48], ["b)", 580, 58], ["c)", 585, 333], ["d)", 582, 648]].map(([t, lx, ly]) => (
          <text key={t as string} x={lx as number} y={ly as number} fontSize={48} fontFamily="'Liberation Serif', serif" fill="#000">{t}</text>
        ))}
      </svg>
    </div>
  );
}
